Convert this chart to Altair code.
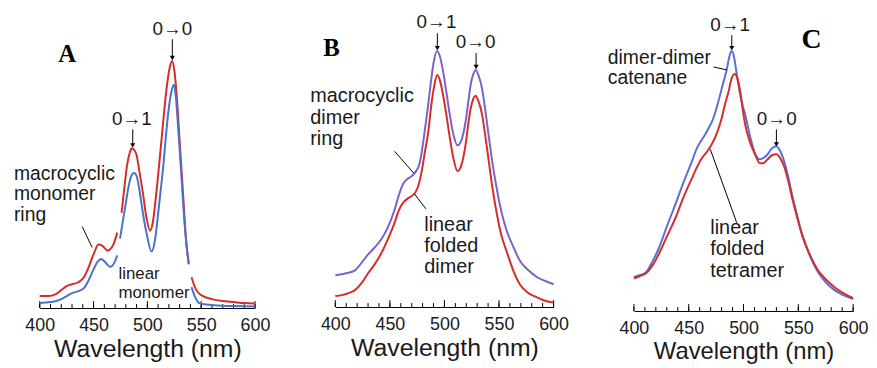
import altair as alt
import pandas as pd

FONT = "Liberation Sans"
SERIF = "Liberation Serif"
INK = "#1a1a1a"

MAJOR_TICKS = [400, 450, 500, 550, 600]
MINOR_TICKS = list(range(400, 601, 10))

# ---------------- Panel A : monomer ----------------
A_RED_WL = [400, 408, 415, 420, 425, 430, 436, 441, 445, 450, 454.5, 458, 463, 468, 472,
            476, 479, 481, 483.5, 485.5, 488, 490, 493, 496, 499, 502.5, 505, 508.5, 513, 517.5,
            520.5, 523, 525, 527, 530, 533, 536, 538.5,
            541, 545, 550, 560, 570, 580, 590, 600]
A_RED = [12, 12, 14, 18, 22, 24, 26, 31, 40, 54, 64, 63, 58, 63, 76,
         96, 125, 143, 156, 161, 159, 154, 135, 115, 92, 78, 86, 118, 168, 218,
         241, 249, 240, 218, 168, 118, 68, 44,
         31, 19, 13, 9, 7, 6, 5, 4.5]
A_BLUE_WL = [400, 410, 415, 420, 425, 430, 436, 441, 445, 450, 454, 457, 461, 465.5, 469, 472,
             474.6, 477, 479.3, 483, 485.5, 487.6, 490, 492, 494.6, 497, 499.5, 503.8, 507, 510,
             514.6, 519.2, 522.3, 524.7, 526.5, 528.4, 531.5, 534.6, 536.5, 538.5,
             541, 544, 548, 555, 565, 580, 600]
A_BLUE = [5, 6, 7, 9, 12, 15, 17, 20, 27, 39, 47, 49.5, 46, 41.5, 45, 53,
          70, 86, 101, 125, 134, 136, 133, 123, 105, 88, 74, 57, 68, 95,
          141, 195, 218, 225, 212, 185, 135, 85, 62, 45,
          21, 12, 5, 3.5, 2.5, 2, 1.5]
A_GAPS = [473.5, 539.5]

# ---------------- Panel B : dimer ----------------
B_PURPLE_WL = [400, 410, 418, 425, 430, 436, 442, 448, 454, 458, 462, 466, 470, 474, 477,
               480, 482.5, 485, 487.5, 490, 493.3, 496, 499, 502, 505, 508, 512, 515.5, 519.4, 522,
               524, 526.5, 528.5, 531, 534.5, 537.5, 540.6, 544, 548, 552, 557, 563, 569, 577, 585,
               593, 600]
B_PURPLE = [32, 34, 37, 46, 53, 60, 68, 80, 97, 112, 124, 129, 132, 137, 144,
            162, 182, 203, 226, 246, 258, 252, 236, 215, 193, 175, 163, 168, 187, 208,
            224, 235, 239, 234, 220, 198, 172, 145, 119, 97, 77, 61, 47, 37, 30,
            26, 23]
B_RED_WL = [400, 406, 412, 418, 424, 430, 436, 442, 448, 454, 458, 462, 466, 470, 473,
            476, 479, 482, 485, 488, 490.5, 493.3, 496, 499, 502, 505, 508, 512, 515.5, 519.4,
            522, 524, 526.5, 528.5, 531, 534.5, 537.5, 540.6, 544, 548, 552, 557, 563, 569, 577,
            584.5, 593, 600]
B_RED = [11, 12, 14, 17, 24, 34, 43, 54, 68, 84, 97, 105, 109, 112, 115,
         122, 136, 156, 175, 204, 222, 234, 228, 212, 192, 170, 151, 137, 143, 164,
         186, 200, 210, 213, 208, 194, 172, 147, 120, 94, 73, 56, 37, 23, 14,
         10, 6, 4.5]

# ---------------- Panel C : tetramer ----------------
C_BLUE_WL = [400, 405, 411, 417, 423, 430, 438, 445, 453, 457, 461, 465, 468, 472, 477,
             481, 484.8, 487, 489, 491, 493, 496, 499, 501.5, 506, 510.5, 515, 518, 522, 526,
             530, 534, 537.6, 541, 545, 549, 553, 560, 568, 575, 583, 591, 600]
C_BLUE = [34, 36, 39, 50, 64, 85, 108, 129, 151, 163, 171, 178, 184, 193, 211,
          228, 244, 256, 262, 258, 245, 224, 208, 198, 176, 159, 153, 154, 158, 164,
          166, 160, 149, 134, 114, 96, 79, 57, 39, 29, 21, 16, 12]
C_RED_WL = [400, 405, 411, 417, 423, 430, 438, 445, 453, 458, 462, 467, 471, 476, 480,
            483, 486.3, 489, 492, 494.5, 497, 499, 501.5, 506, 510.5, 515, 518, 522, 526, 530,
            534, 537.6, 541, 545, 549, 553, 560, 568, 575, 583, 591, 600]
C_RED = [33, 35, 38, 46, 58, 75, 94, 114, 134, 146, 154, 161, 168, 180, 194,
         208, 221, 234, 239, 234, 221, 205, 188, 170, 158, 149, 149, 153, 157, 158,
         153, 144, 130, 111, 94, 78, 58, 41, 32, 24, 18, 13]

# ---------------- annotations (wavelength, intensity) ----------------
A_NOTES = [("macrocyclic\nmonomer\nring", 376.0, 129), ("linear\nmonomer", 473.1, 29)]
A_PEAKS = [("0\u21921", 485.6, 185), ("0\u21920", 523.2, 275)]
A_ARROWS = [(486.4, 180, 164), (523.2, 271, 252)]
A_LEADERS = [(439.5, 82, 448.7, 61)]
A_LETTER = ("A", 425.5, 248)

B_NOTES = [("macrocyclic\ndimer\nring", 377.0, 207), ("linear\nfolded\ndimer", 481.5, 77)]
B_PEAKS = [("0\u21921", 492.7, 281), ("0\u21920", 528.5, 261)]
B_ARROWS = [(493.5, 276, 261), (529.0, 256, 242)]
B_LEADERS = [(454.3, 157, 471.8, 135), (472.5, 114, 483.0, 99)]
B_LETTER = ("B", 396.4, 253)

C_NOTES = [("dimer-dimer\ncatenane", 376.2, 249), ("linear\nfolded\ntetramer", 469.7, 78)]
C_PEAKS = [("0\u21921", 487.8, 282), ("0\u21920", 530.3, 188)]
C_ARROWS = [(489.3, 278, 265), (530.0, 183, 168)]
C_LEADERS = [(472.7, 246, 484.8, 243), (469.7, 163, 493.8, 89)]
C_LETTER = ("C", 562.0, 265)


def curve(wl, val, name, gaps=()):
    seg = [sum(1 for g in gaps if w > g) for w in wl]
    return pd.DataFrame({"wl": wl, "val": val, "series": name,
                         "seg": [f"{name}-{s}" for s in seg]})


def panel(curves, colors, width, height, notes, note_size, note_lh, peaks, arrows,
          leaders, letter, letter_size, title_size):
    X = alt.X("wl:Q", scale=alt.Scale(domain=[400, 600], nice=False, zero=False),
              axis=alt.Axis(values=MAJOR_TICKS, title="Wavelength (nm)", ticks=False,
                            tickSize=0, grid=False, domainColor="black", domainWidth=1,
                            labelFontSize=18, labelColor=INK, labelPadding=9,
                            labelFlush=False, labelOverlap=False,
                            labelFont=FONT, titleFont=FONT, titleFontSize=title_size,
                            titleFontWeight="normal", titleColor=INK, titlePadding=2))
    Y = alt.Y("val:Q", scale=alt.Scale(domain=[0, height], nice=False, zero=False), axis=None)
    Y2 = alt.Y("val2:Q", scale=alt.Scale(domain=[0, height], nice=False, zero=False), axis=None)

    data = pd.concat(curves, ignore_index=True)
    lines = alt.Chart(data).mark_line(strokeWidth=2, interpolate="monotone").encode(
        x=X, y=Y,
        color=alt.Color("series:N", scale=alt.Scale(domain=list(colors.keys()),
                                                      range=list(colors.values())),
                        legend=None),
        detail="seg:N")

    minor = alt.Chart(pd.DataFrame({"wl": MINOR_TICKS})).mark_rule(
        color="black", strokeWidth=1).encode(x=X, y=alt.value(height), y2=alt.value(height - 4))
    major = alt.Chart(pd.DataFrame({"wl": MAJOR_TICKS})).mark_rule(
        color="black", strokeWidth=1).encode(x=X, y=alt.value(height), y2=alt.value(height - 7))

    layers = [minor, major, lines]

    for (txt, wl, val), fs, lh in zip(notes, note_size, note_lh):
        layers.append(alt.Chart(pd.DataFrame({"wl": [wl], "val": [val], "t": [txt]})).mark_text(
            align="left", baseline="alphabetic", fontSize=fs, lineHeight=lh, lineBreak="\n",
            font=FONT, color=INK).encode(x=X, y=Y, text="t:N"))

    pk = pd.DataFrame({"t": [p[0] for p in peaks], "wl": [p[1] for p in peaks],
                       "val": [p[2] for p in peaks]})
    layers.append(alt.Chart(pk).mark_text(align="center", baseline="alphabetic", fontSize=19,
                                          font=FONT, color=INK).encode(x=X, y=Y, text="t:N"))

    ar = pd.DataFrame({"wl": [a[0] for a in arrows], "val": [a[1] for a in arrows],
                       "val2": [a[2] for a in arrows]})
    layers.append(alt.Chart(ar).mark_rule(color="black", strokeWidth=1).encode(
        x=X, y=Y, y2="val2:Q"))
    layers.append(alt.Chart(ar).mark_point(shape="triangle-down", filled=True, size=26,
                                           color="black", opacity=1).encode(x=X, y=Y2))

    ld = pd.DataFrame({"wl": [l[0] for l in leaders], "val": [l[1] for l in leaders],
                       "wl2": [l[2] for l in leaders], "val2": [l[3] for l in leaders]})
    layers.append(alt.Chart(ld).mark_rule(color="black", strokeWidth=1).encode(
        x=X, y=Y, x2="wl2:Q", y2="val2:Q"))

    lt = pd.DataFrame({"t": [letter[0]], "wl": [letter[1]], "val": [letter[2]]})
    layers.append(alt.Chart(lt).mark_text(align="center", baseline="alphabetic",
                                          fontSize=letter_size, font=SERIF, fontWeight="bold",
                                          color="black").encode(x=X, y=Y, text="t:N"))

    return alt.layer(*layers).properties(
        width=width, height=height,
        view=alt.ViewBackground(stroke="transparent", strokeWidth=0, strokeOpacity=0))


pA = panel([curve(A_RED_WL, A_RED, "red", A_GAPS), curve(A_BLUE_WL, A_BLUE, "blue", A_GAPS)],
           {"red": "#d62d2a", "blue": "#4a72c8"}, 217, 296,
           A_NOTES, [19.5, 17], [20.5, 19], A_PEAKS, A_ARROWS, A_LEADERS, A_LETTER, 25, 25)
pB = panel([curve(B_RED_WL, B_RED, "red"), curve(B_PURPLE_WL, B_PURPLE, "purple")],
           {"red": "#d62d2a", "purple": "#7d62c8"}, 220, 295,
           B_NOTES, [20, 20], [22, 21.5], B_PEAKS, B_ARROWS, B_LEADERS, B_LETTER, 25, 25)
pC = panel([curve(C_BLUE_WL, C_BLUE, "blue"), curve(C_RED_WL, C_RED, "red")],
           {"blue": "#5b6fd6", "red": "#d62d2a"}, 221, 299,
           C_NOTES, [19.5, 20], [20.5, 21.7], C_PEAKS, C_ARROWS, C_LEADERS, C_LETTER, 28, 24)

chart = alt.hconcat(pA, pB, pC, spacing=81, bounds="flush").resolve_scale(
    color="independent", x="independent", y="independent"
).properties(
    padding={"left": 5, "top": 4, "right": 0, "bottom": 0}
).configure_view(stroke="transparent", strokeWidth=0).configure(background="white")

chart.save("out.html", embed_options={"renderer": "svg", "actions": False})
